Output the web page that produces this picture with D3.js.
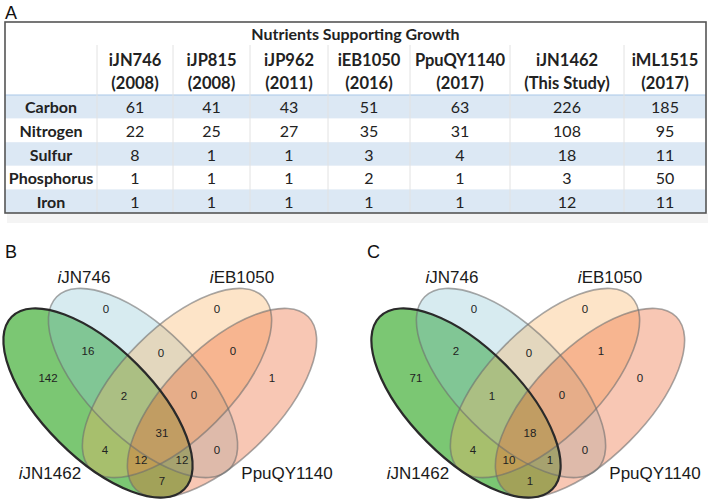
<!DOCTYPE html>
<html><head><meta charset="utf-8">
<script src="https://cdn.jsdelivr.net/npm/d3@7"></script>
<style>body{margin:0;background:#fff}svg{display:block}</style>
</head><body>
<svg id="chart" width="709" height="500"></svg>
<script>
// ---------- DATA ----------
const tableTitle = "Nutrients Supporting Growth";
const models = ["iJN746","iJP815","iJP962","iEB1050","PpuQY1140","iJN1462","iML1515"];
const years = ["(2008)","(2008)","(2011)","(2016)","(2017)","(This Study)","(2017)"];
const nutrients = ["Carbon","Nitrogen","Sulfur","Phosphorus","Iron"];
const carbon = [61,41,43,51,63,226,185];
const nitrogen = [22,25,27,35,31,108,95];
const sulfur = [8,1,1,3,4,18,11];
const phosphorus = [1,1,1,2,1,3,50];
const iron = [1,1,1,1,1,12,11];

const vennSets = ["iJN1462","iJN746","iEB1050","PpuQY1140"]; // A,B,C,D
const regionKeys = ["B","C","AB","BC","CD","A","D","ABC","BCD","ABCD","AC","BD","ACD","ABD","AD"];
const countsB = [0,0,16,0,0,142,1,2,0,31,4,0,12,12,7];
const countsC = [0,0,2,0,1,71,0,1,0,18,4,0,10,1,1];
const panelLetters = ["A","B","C"];

// ---------- LAYOUT ----------
const svg = d3.select("#chart");
const font = "Lato, 'Open Sans', sans-serif";
const arial = "'Liberation Sans', Arial, sans-serif";

const tbl = {x0:5, x1:706, y0:22, titleY:45, headY:95, y1:213};
const colEdges = [97,173,250,328,410,510,624,706];
const colScale = d3.scaleOrdinal().domain(models).range(models.map((m,i)=>[colEdges[i],colEdges[i+1]]));
const rowScale = d3.scaleBand().domain(nutrients).range([tbl.headY, tbl.y1]);
const rowValues = [carbon,nitrogen,sulfur,phosphorus,iron];

svg.append("rect").attr("x",tbl.x0+2).attr("y",tbl.y1).attr("width",tbl.x1-tbl.x0).attr("height",10)
  .attr("fill","#f4f4f4");
svg.append("rect").attr("x",tbl.x0).attr("y",tbl.y0).attr("width",tbl.x1-tbl.x0).attr("height",tbl.y1-tbl.y0)
  .attr("fill","#fff");

svg.append("g").selectAll("rect").data(nutrients).join("rect")
  .attr("x",tbl.x0).attr("width",tbl.x1-tbl.x0)
  .attr("y",d=>rowScale(d)).attr("height",rowScale.bandwidth())
  .attr("fill",(d,i)=> i%2===0 ? "#dce8f4" : "#ffffff");

svg.append("line").attr("x1",tbl.x0).attr("x2",tbl.x1).attr("y1",tbl.headY).attr("y2",tbl.headY)
  .attr("stroke","#a9c8e8").attr("stroke-width",1.2);

svg.append("g").selectAll("line").data(colEdges.slice(0,-1)).join("line")
  .attr("x1",d=>d).attr("x2",d=>d).attr("y1",tbl.titleY).attr("y2",tbl.y1)
  .attr("stroke","#e2e2e2").attr("stroke-width",1);

svg.append("rect").attr("x",tbl.x0).attr("y",tbl.y0).attr("width",tbl.x1-tbl.x0).attr("height",tbl.y1-tbl.y0)
  .attr("fill","none").attr("stroke","#555").attr("stroke-width",1.6);

svg.append("text").attr("x",(tbl.x0+tbl.x1)/2).attr("y",33).attr("dominant-baseline","central")
  .attr("text-anchor","middle").attr("font-family",font).attr("font-weight",700).attr("font-size",16)
  .attr("fill","#222").text(tableTitle);

const cx = m => { const r = colScale(m); return (r[0]+r[1])/2; };
svg.append("g").selectAll("text").data(models).join("text")
  .attr("x",d=>cx(d)).attr("y",60).attr("dominant-baseline","central").attr("text-anchor","middle")
  .attr("font-family",font).attr("font-weight",700).attr("font-size",16.5).attr("fill","#222").text(d=>d);
svg.append("g").selectAll("text").data(years).join("text")
  .attr("x",(d,i)=>cx(models[i])).attr("y",83).attr("dominant-baseline","central").attr("text-anchor","middle")
  .attr("font-family",font).attr("font-weight",700).attr("font-size",16.5).attr("fill","#222").text(d=>d);

svg.append("g").selectAll("text").data(nutrients).join("text")
  .attr("x",(tbl.x0+colEdges[0])/2).attr("y",d=>rowScale(d)+rowScale.bandwidth()/2)
  .attr("dominant-baseline","central").attr("text-anchor","middle")
  .attr("font-family",font).attr("font-weight",700).attr("font-size",16).attr("fill","#222").text(d=>d);

nutrients.forEach((n,ri)=>{
  svg.append("g").selectAll("text").data(rowValues[ri]).join("text")
    .attr("x",(d,i)=>cx(models[i])).attr("y",rowScale(n)+rowScale.bandwidth()/2)
    .attr("dominant-baseline","central").attr("text-anchor","middle")
    .attr("font-family",font).attr("font-size",16).attr("fill","#222").text(d=>d);
});

const letterPos = [[5,13],[5,252],[367,252]];
svg.append("g").selectAll("text").data(panelLetters).join("text")
  .attr("x",(d,i)=>letterPos[i][0]).attr("y",(d,i)=>letterPos[i][1]).attr("dominant-baseline","central")
  .attr("font-family",arial).attr("font-size",18).attr("fill","#111").text(d=>d);

// ---------- VENN ----------
const ellipses = [
  {cx:-62, cy:0,   rot:45,  fill:"rgb(60,172,48)",  op:0.68, stroke:"#2a2a2a", sw:2.2, sop:1},
  {cx:-17, cy:-20, rot:45,  fill:"rgb(140,197,211)",op:0.35, stroke:"#6e6e6e", sw:1.6, sop:0.6},
  {cx:17,  cy:-20, rot:-45, fill:"rgb(249,177,97)", op:0.35, stroke:"#6e6e6e", sw:1.6, sop:0.6},
  {cx:62,  cy:0,   rot:-45, fill:"rgb(236,95,40)",  op:0.35, stroke:"#6e6e6e", sw:1.6, sop:0.6}
];
const ea = 122, eb = 55;
const regionAnchors = {
  B:[-54,-94], C:[57,-94], AB:[-72,-52], BC:[1,-50], CD:[73,-52], A:[-112,-25], D:[112,-25],
  ABC:[-36,-7], BCD:[34,-8], ABCD:[2,30], AC:[-55,47], BD:[57,47], ACD:[-19,57], ABD:[22,57], AD:[2,78]
};
const setLabelPos = [[-110,70],[-76,-126],[82,-126],[127,70]];

function drawVenn(originX, originY, counts){
  const x = d3.scaleLinear().domain([-200,200]).range([originX-200, originX+200]);
  const y = d3.scaleLinear().domain([-200,200]).range([originY-200, originY+200]);
  const g = svg.append("g");
  g.selectAll("ellipse.f").data(ellipses).join("ellipse").attr("class","f")
    .attr("cx",0).attr("cy",0).attr("rx",ea).attr("ry",eb)
    .attr("transform",d=>`translate(${x(d.cx)},${y(d.cy)}) rotate(${d.rot})`)
    .attr("fill",d=>d.fill).attr("fill-opacity",d=>d.op);
  const order = [1,2,3,0];
  g.selectAll("ellipse.o").data(order.map(i=>ellipses[i])).join("ellipse").attr("class","o")
    .attr("cx",0).attr("cy",0).attr("rx",ea).attr("ry",eb)
    .attr("transform",d=>`translate(${x(d.cx)},${y(d.cy)}) rotate(${d.rot})`)
    .attr("fill","none").attr("stroke",d=>d.stroke).attr("stroke-width",d=>d.sw).attr("stroke-opacity",d=>d.sop);
  g.selectAll("text.n").data(regionKeys).join("text").attr("class","n")
    .attr("x",d=>x(regionAnchors[d][0])).attr("y",d=>y(regionAnchors[d][1]))
    .attr("text-anchor","middle").attr("dominant-baseline","central")
    .attr("font-family",arial).attr("font-size",11.5).attr("fill","#222")
    .text((d,i)=>counts[i]);
  const sl = g.selectAll("text.s").data(vennSets).join("text").attr("class","s")
    .attr("x",(d,i)=>x(setLabelPos[i][0])).attr("y",(d,i)=>y(setLabelPos[i][1]))
    .attr("text-anchor","middle").attr("dominant-baseline","central")
    .attr("font-family",arial).attr("font-size",17).attr("fill","#1a1a1a");
  sl.each(function(d){
    const t = d3.select(this);
    if (d[0]==="i"){
      t.append("tspan").attr("font-style","italic").text("i");
      t.append("tspan").text(d.slice(1));
    } else t.text(d);
  });
}
drawVenn(160,403,countsB);
drawVenn(528,403,countsC);
</script>
</body></html>
